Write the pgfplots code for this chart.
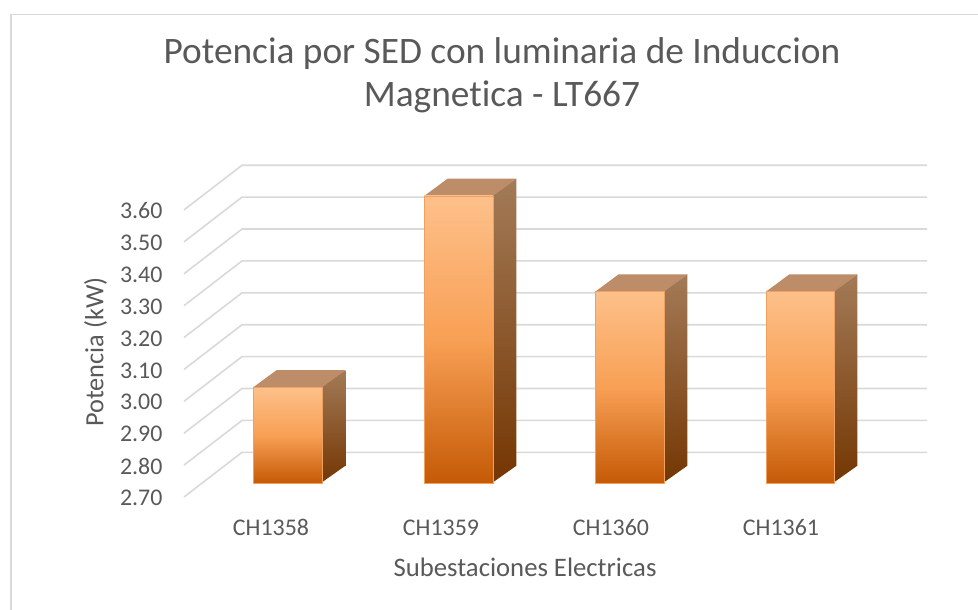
\documentclass[border=0pt]{standalone}
\usepackage{fontspec}
\setmainfont{Carlito}[Ligatures={NoCommon}]
\usepackage{pgfplots}
\pgfplotsset{compat=1.18}
\definecolor{gridc}{HTML}{D9D9D9}
\definecolor{txt}{HTML}{595959}
\definecolor{ftop}{HTML}{FDC08A}
\definecolor{fmid}{HTML}{F8A055}
\definecolor{fbot}{HTML}{C55A06}
\definecolor{ttop}{HTML}{BC8D68}
\definecolor{stop}{HTML}{A37B58}
\definecolor{sbot}{HTML}{743602}
\definecolor{edge}{HTML}{F0A060}
\pgfplotsset{
    common/.style={
        scale only axis,
        width=743bp,
        xmin=184, xmax=927,
        clip=false,
        axis line style={draw=none},
        major tick length=0pt,
    },
    gline/.style={draw=gridc, line width=1.6bp, mark=none, forget plot},
    front/.style={draw=edge, line width=0.4bp, top color=ftop, bottom color=fbot, middle color=fmid, forget plot},
    tface/.style={draw=none, fill=ttop, forget plot},
    sface/.style={draw=none, top color=stop, bottom color=sbot, forget plot},
}
\begin{document}
\begin{tikzpicture}
\useasboundingbox (0,0) rectangle (978bp,610bp);
\draw[gridc, line width=1.3bp] (11bp,0) -- (11bp,595.5bp) -- (978bp,595.5bp);
% gridlines, walls and labels
\begin{axis}[
    common,
    at={(184bp,113bp)}, anchor=south west,
    height=332bp,
    ymin=2.7, ymax=3.7408,
    ytick={2.7,2.8,2.9,3.0,3.1,3.2,3.3,3.4,3.5,3.6},
    xtick={271,441,611,781},
    xticklabels={CH1358,CH1359,CH1360,CH1361},
    yticklabel style={
        /pgf/number format/fixed,
        /pgf/number format/fixed zerofill,
        /pgf/number format/precision=2,
        /pgf/number format/assume math mode=true,
        font=\fontsize{24}{28}\selectfont, text=txt, anchor=east, xshift=-18bp, yshift=-1bp
    },
    xticklabel style={font=\fontsize{24}{28}\selectfont, text=txt, anchor=base, yshift=-38bp},
    title={Potencia por SED con luminaria de Induccion\\Magnetica - LT667},
    title style={at={(axis description cs:0.428,1.253)}, anchor=center, align=center,
        font=\fontsize{37.5}{43}\selectfont, text=txt},
    xlabel={Subestaciones Electricas},
    xlabel style={at={(axis description cs:0.459,-0.211)}, anchor=center,
        font=\fontsize{26.8}{28}\selectfont, text=txt},
    ylabel={Potencia (kW)},
    ylabel style={at={(axis description cs:-0.119,0.436)}, anchor=center, rotate=0,
        font=\fontsize{26.4}{28}\selectfont, text=txt},
]
\addplot[gline] coordinates {(184,2.7) (242,2.84) (927,2.84)};
\addplot[gline] coordinates {(184,2.8) (242,2.94) (927,2.94)};
\addplot[gline] coordinates {(184,2.9) (242,3.04) (927,3.04)};
\addplot[gline] coordinates {(184,3.0) (242,3.14) (927,3.14)};
\addplot[gline] coordinates {(184,3.1) (242,3.24) (927,3.24)};
\addplot[gline] coordinates {(184,3.2) (242,3.34) (927,3.34)};
\addplot[gline] coordinates {(184,3.3) (242,3.44) (927,3.44)};
\addplot[gline] coordinates {(184,3.4) (242,3.54) (927,3.54)};
\addplot[gline] coordinates {(184,3.5) (242,3.64) (927,3.64)};
\addplot[gline] coordinates {(184,3.6) (242,3.74) (927,3.74)};
\end{axis}
% bars: front, top and side faces
\begin{axis}[
    common,
    at={(184bp,127bp)}, anchor=south west,
    height=318bp,
    ymin=2.7, ymax=3.6969,
    xtick=\empty, ytick=\empty,
]
% CH1358 = 3.00
\addplot[sface] coordinates {(321,2.7) (345.3,2.754) (345.3,3.054) (321,3.0)} --cycle;
\addplot[tface] coordinates {(253.3,3.0) (276.6,3.054) (345.3,3.054) (322,3.0)} --cycle;
\addplot[front] coordinates {(253.3,2.7) (253.3,3.0) (322,3.0) (322,2.7)} --cycle;
% CH1359 = 3.60
\addplot[sface] coordinates {(492,2.7) (516.3,2.754) (516.3,3.654) (492,3.6)} --cycle;
\addplot[tface] coordinates {(424.3,3.6) (447.6,3.654) (516.3,3.654) (493,3.6)} --cycle;
\addplot[front] coordinates {(424.3,2.7) (424.3,3.6) (493,3.6) (493,2.7)} --cycle;
% CH1360 = 3.30
\addplot[sface] coordinates {(663,2.7) (687.3,2.754) (687.3,3.354) (663,3.3)} --cycle;
\addplot[tface] coordinates {(595.3,3.3) (618.6,3.354) (687.3,3.354) (664,3.3)} --cycle;
\addplot[front] coordinates {(595.3,2.7) (595.3,3.3) (664,3.3) (664,2.7)} --cycle;
% CH1361 = 3.30
\addplot[sface] coordinates {(833,2.7) (857.3,2.754) (857.3,3.354) (833,3.3)} --cycle;
\addplot[tface] coordinates {(766,3.3) (789.3,3.354) (857.3,3.354) (834,3.3)} --cycle;
\addplot[front] coordinates {(766,2.7) (766,3.3) (834,3.3) (834,2.7)} --cycle;
\end{axis}
\end{tikzpicture}
\end{document}
